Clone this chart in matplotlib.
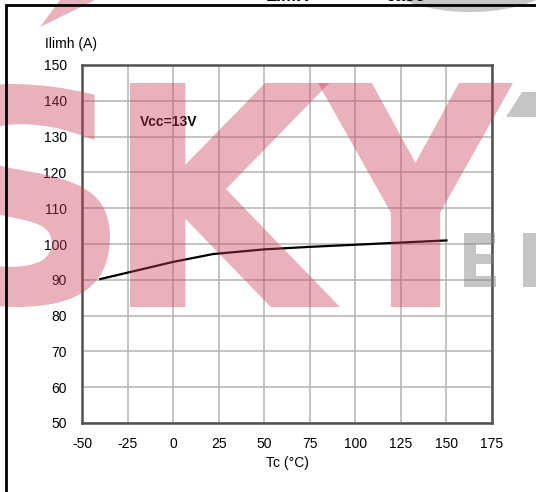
import matplotlib
matplotlib.use('Agg')
import matplotlib.pyplot as plt
from matplotlib.textpath import TextPath
from matplotlib.font_manager import FontProperties
from matplotlib.patches import PathPatch, Polygon, Ellipse, Rectangle
from matplotlib.transforms import Affine2D

# ILIMH vs Tcase data
tc = [-40, -25, 0, 22, 50, 75, 100, 125, 150]
ilimh = [90.2, 92.0, 95.0, 97.2, 98.5, 99.2, 99.8, 100.4, 101.0]
xticks = [-50, -25, 0, 25, 50, 75, 100, 125, 150, 175]
yticks = [50, 60, 70, 80, 90, 100, 110, 120, 130, 140, 150]

W, H = 536, 492
plt.rcParams['font.family'] = ['Liberation Sans', 'DejaVu Sans']
plt.rcParams['axes.unicode_minus'] = False

fig = plt.figure(figsize=(W / 100, H / 100), dpi=100)
ax = fig.add_axes([82 / W, 1 - 423 / H, (492 - 82) / W, (423 - 65) / H])
ax.set_facecolor('none')

ax.plot(tc, ilimh, color='black', lw=1.6, zorder=3)

ax.set_xlim(-50, 175)
ax.set_ylim(50, 150)
ax.set_xticks(xticks)
ax.set_yticks(yticks)
ax.grid(True, color='#b4b4b4', lw=1.1)
ax.tick_params(length=0, labelsize=10, pad=10)
ax.tick_params(axis='y', pad=11)
for s in ax.spines.values():
    s.set_color('#505050')
    s.set_linewidth(1.8)

ax.text(-18, 134, 'Vcc=13V', fontsize=10, fontweight='bold', va='center')
fig.text(45 / W, 1 - 44 / H, 'Ilimh (A)', fontsize=10, va='center')
fig.text(287 / W, 1 - 463 / H, 'Tc (°C)', fontsize=10, ha='center', va='center')
# title cut off at the top of the picture
fig.text(288 / W, 1 + 4 / H, 'LIMH', fontsize=13, fontweight='bold', ha='center', va='center')
fig.text(405 / W, 1 + 4 / H, 'case', fontsize=13, fontweight='bold', ha='center', va='center')


def px(x, y):
    return (x / W, 1 - y / H)


def letter(s, box, color, alpha):
    fp = FontProperties(family='DejaVu Sans', weight='bold')
    p = TextPath((0, 0), s, size=1, prop=fp)
    e = p.get_extents()
    x0, y0 = px(box[0], box[3])
    x1, y1 = px(box[2], box[1])
    t = (Affine2D().translate(-e.x0, -e.y0)
         .scale((x1 - x0) / e.width, (y1 - y0) / e.height)
         .translate(x0, y0))
    fig.add_artist(PathPatch(p.transformed(t), transform=fig.transFigure,
                             facecolor=color, lw=0, alpha=alpha, zorder=10))


# watermark
red = (200 / 255, 62 / 255, 87 / 255)
gray = (0.5, 0.5, 0.5)
letter('S', (-75, 84, 110, 307), red, 0.4)
letter('K', (130, 83, 340, 307), red, 0.4)
letter('Y', (318, 83, 513, 307), red, 0.4)
letter('E', (464, 233, 496, 287), gray, 0.45)
letter('L', (523, 233, 560, 287), gray, 0.45)
fig.add_artist(Polygon([px(40, 27), px(60, 0), px(95, 0)], transform=fig.transFigure,
                       facecolor=red, alpha=0.4, lw=0, zorder=10))
fig.add_artist(Polygon([px(506, 117), px(522, 92), px(540, 92), px(540, 117)],
                       transform=fig.transFigure, facecolor=gray, alpha=0.45, lw=0, zorder=10))
fig.add_artist(Ellipse(px(470, -30), 190 / W, 84 / H, transform=fig.transFigure,
                       facecolor='#c8c8c8', lw=0, zorder=1))

# frame around the picture
fig.add_artist(Rectangle(px(6, 520), 600 / W, 515 / H, transform=fig.transFigure,
                         fill=False, edgecolor='black', lw=2, zorder=11))

fig.savefig('out.png', dpi=100)
